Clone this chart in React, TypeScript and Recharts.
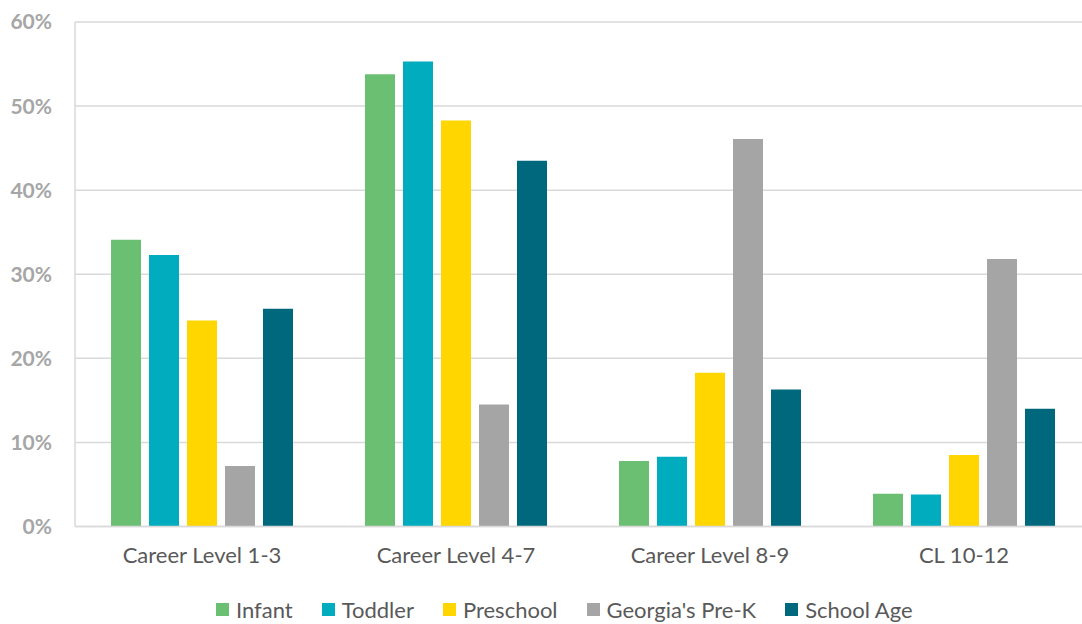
import React from "react";
import { BarChart, Bar, XAxis, YAxis, CartesianGrid, Legend } from "recharts";

const categories = ["Career Level 1-3", "Career Level 4-7", "Career Level 8-9", "CL 10-12"];
const infant = [34.1, 53.8, 7.8, 3.9];
const toddler = [32.3, 55.3, 8.3, 3.8];
const preschool = [24.5, 48.3, 18.3, 8.5];
const preK = [7.2, 14.5, 46.1, 31.8];
const schoolAge = [25.9, 43.5, 16.3, 14.0];
const yTicks = [0, 10, 20, 30, 40, 50, 60];

const series = [
  { key: "infant", name: "Infant", color: "#6BBF73", values: infant },
  { key: "toddler", name: "Toddler", color: "#00ACBD", values: toddler },
  { key: "preschool", name: "Preschool", color: "#FFD600", values: preschool },
  { key: "prek", name: "Georgia's Pre-K", color: "#A5A5A5", values: preK },
  { key: "school", name: "School Age", color: "#00687D", values: schoolAge },
];

const data = categories.map((c, i) => {
  const row: Record<string, string | number> = { category: c };
  series.forEach((s) => {
    row[s.key] = s.values[i];
  });
  return row;
});

const FONT = "Lato, 'Open Sans', sans-serif";

const LegendContent = () => (
  <div
    style={{
      height: 30,
      display: "flex",
      alignItems: "center",
      paddingLeft: 216,
      fontFamily: FONT,
      fontSize: 22,
      color: "#595959",
    }}
  >
    {series.map((s) => (
      <div key={s.key} style={{ display: "flex", alignItems: "center", marginRight: 29 }}>
        <div style={{ width: 13, height: 13, background: s.color, marginRight: 7 }} />
        <span>{s.name}</span>
      </div>
    ))}
  </div>
);

export default function App() {
  return (
    <div style={{ width: 1082, height: 624, background: "#fff", fontFamily: FONT, overflow: "hidden" }}>
      <style>{`body{margin:0;}`}</style>
      <BarChart
        width={1082}
        height={624}
        data={data}
        margin={{ top: 22, right: -9, bottom: 0, left: 0 }}
        barSize={30}
        barGap={8}
        style={{ overflow: "hidden" }}
      >
        <CartesianGrid vertical={false} stroke="#D9D9D9" strokeWidth={1.5} />
        <XAxis
          dataKey="category"
          tickLine={false}
          axisLine={{ stroke: "#D9D9D9", strokeWidth: 1.5 }}
          tick={{ fill: "#595959", fontSize: 22, fontFamily: FONT }}
          tickMargin={15}
          height={67.5}
          interval={0}
        />
        <YAxis
          width={75}
          domain={[0, 60]}
          ticks={yTicks}
          tickFormatter={(v) => `${v}%`}
          tickLine={false}
          axisLine={{ stroke: "#D9D9D9", strokeWidth: 1.5 }}
          tickSize={0}
          tickMargin={23}
          tick={{ fill: "#A6A6A6", fontSize: 21, fontWeight: 700, fontFamily: FONT }}
        />
        <Legend
          verticalAlign="bottom"
          align="left"
          wrapperStyle={{ left: 0, bottom: 0, width: 1082, height: 30 }}
          content={<LegendContent />}
        />
        {series.map((s) => (
          <Bar key={s.key} dataKey={s.key} name={s.name} fill={s.color} isAnimationActive={false} />
        ))}
      </BarChart>
    </div>
  );
}
